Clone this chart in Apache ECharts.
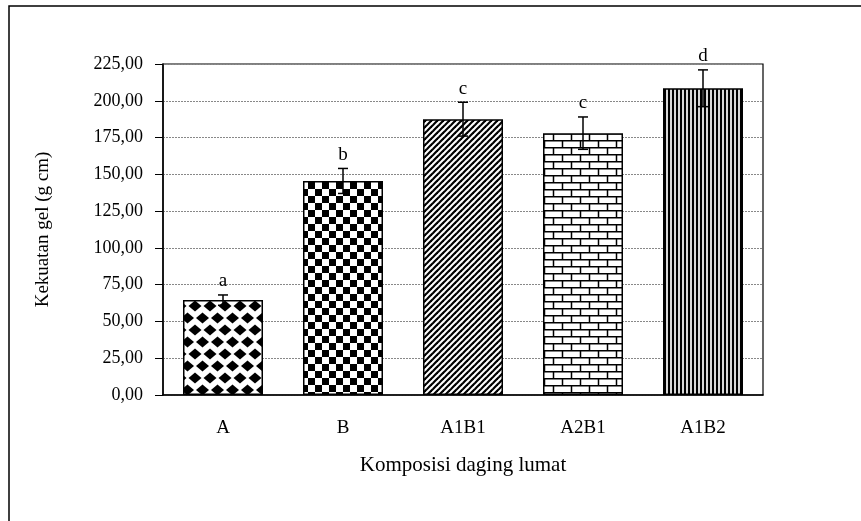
<!DOCTYPE html>
<html>
<head>
<meta charset="utf-8">
<script src="https://cdn.jsdelivr.net/npm/echarts@6/dist/echarts.min.js"></script>
<style>
  html, body { margin: 0; padding: 0; background: #fff; }
  #chart { width: 861px; height: 521px; }
</style>
</head>
<body>
<div id="chart"></div>
<script>
const categories = ['A', 'B', 'A1B1', 'A2B1', 'A1B2'];
const means = [64.5, 145.5, 187.5, 178, 208.5];
const errors = [3.5, 8.5, 11.5, 11, 12.5];
const letters = ['a', 'b', 'c', 'c', 'd'];
const yTicks = { min: 0, max: 225, interval: 25 };

const FONT = '"Liberation Serif", "DejaVu Serif", serif';

// fill patterns, one per bar
function tile(w, h, draw) {
  const c = document.createElement('canvas');
  c.width = w; c.height = h;
  const ctx = c.getContext('2d');
  ctx.fillStyle = '#fff';
  ctx.fillRect(0, 0, w, h);
  ctx.fillStyle = '#000';
  ctx.strokeStyle = '#000';
  draw(ctx, w, h);
  return { image: c, repeat: 'repeat' };
}
function diamond(ctx, cx, cy, hw, hh) {
  ctx.beginPath();
  ctx.moveTo(cx, cy - hh); ctx.lineTo(cx + hw, cy);
  ctx.lineTo(cx, cy + hh); ctx.lineTo(cx - hw, cy);
  ctx.closePath(); ctx.fill();
}
const patterns = [
  tile(15, 24, (ctx) => {
    diamond(ctx, 7.5, 6, 6.5, 5.5);
    diamond(ctx, 0, 18, 6.5, 5.5);
    diamond(ctx, 15, 18, 6.5, 5.5);
  }),
  tile(14, 14, (ctx) => {
    ctx.fillRect(0, 0, 7, 7);
    ctx.fillRect(7, 7, 7, 7);
  }),
  tile(6, 6, (ctx) => {
    ctx.lineWidth = 2.2;
    for (let k = -1; k <= 1; k++) {
      ctx.beginPath();
      ctx.moveTo(k * 6 - 1, 7); ctx.lineTo(k * 6 + 7, -1);
      ctx.stroke();
    }
  }),
  tile(18, 14, (ctx) => {
    ctx.lineWidth = 1.5;
    ctx.beginPath();
    ctx.moveTo(0, 0.75); ctx.lineTo(18, 0.75);
    ctx.moveTo(0, 7.75); ctx.lineTo(18, 7.75);
    ctx.moveTo(4.5, 0); ctx.lineTo(4.5, 7.5);
    ctx.moveTo(13.5, 7); ctx.lineTo(13.5, 14);
    ctx.stroke();
  }),
  tile(4, 4, (ctx) => {
    ctx.fillStyle = '#d8d8d8';
    ctx.fillRect(2, 0, 2, 4);
    ctx.fillStyle = '#000';
    ctx.fillRect(0, 0, 2, 4);
  })
];

const barData = means.map((v, i) => ({
  value: v,
  itemStyle: { color: patterns[i] }
}));
const errData = means.map((v, i) => [i, v - errors[i], v + errors[i]]);

const chart = echarts.init(document.getElementById('chart'));
chart.setOption({
  animation: false,
  backgroundColor: '#fff',
  graphic: [{
    type: 'rect',
    shape: { x: 9, y: 6, width: 1000, height: 1000 },
    style: { fill: 'none', stroke: '#000', lineWidth: 1.5 },
    silent: true
  }],
  grid: {
    left: 163, top: 64, right: 98, bottom: 126,
    show: true, borderColor: '#000', borderWidth: 1.2, backgroundColor: 'transparent'
  },
  xAxis: {
    type: 'category',
    data: categories,
    name: 'Komposisi daging lumat',
    nameLocation: 'middle',
    nameGap: 60,
    nameTextStyle: { fontFamily: FONT, fontSize: 21, color: '#000' },
    axisLine: { lineStyle: { color: '#000', width: 1.5 } },
    axisTick: { show: false },
    axisLabel: { margin: 24, fontFamily: FONT, fontSize: 19, color: '#000' }
  },
  yAxis: {
    type: 'value',
    min: yTicks.min, max: yTicks.max, interval: yTicks.interval,
    name: 'Kekuatan gel (g cm)',
    nameLocation: 'middle',
    nameGap: 110,
    nameTextStyle: { fontFamily: FONT, fontSize: 19, color: '#000' },
    axisLine: { show: true, lineStyle: { color: '#000', width: 1.5 } },
    axisTick: { show: true, length: 8, lineStyle: { color: '#000', width: 1 } },
    axisLabel: {
      margin: 20, fontFamily: FONT, fontSize: 18, color: '#000',
      formatter: (v) => v.toFixed(2).replace('.', ',')
    },
    splitLine: { show: true, lineStyle: { color: '#888', type: [2, 1], width: 1 } }
  },
  series: [{
    type: 'bar',
    data: barData,
    barWidth: 80,
    itemStyle: { borderColor: '#000', borderWidth: 1.5 }
  }, {
    type: 'custom',
    data: errData,
    z: 10,
    renderItem: (params, api) => {
      const i = api.value(0);
      const lo = api.coord([i, api.value(1)]);
      const hi = api.coord([i, api.value(2)]);
      const cap = 5;
      const st = { stroke: '#000', lineWidth: 1.5 };
      return {
        type: 'group',
        children: [
          { type: 'line', shape: { x1: hi[0], y1: hi[1], x2: lo[0], y2: lo[1] }, style: st },
          { type: 'line', shape: { x1: hi[0] - cap, y1: hi[1], x2: hi[0] + cap, y2: hi[1] }, style: st },
          { type: 'line', shape: { x1: lo[0] - cap, y1: lo[1], x2: lo[0] + cap, y2: lo[1] }, style: st },
          {
            type: 'text',
            style: {
              x: hi[0], y: hi[1] - 4,
              text: letters[params.dataIndex],
              align: 'center', verticalAlign: 'bottom',
              fontFamily: FONT, fontSize: 19, fill: '#000'
            }
          }
        ]
      };
    }
  }]
});
</script>
</body>
</html>
